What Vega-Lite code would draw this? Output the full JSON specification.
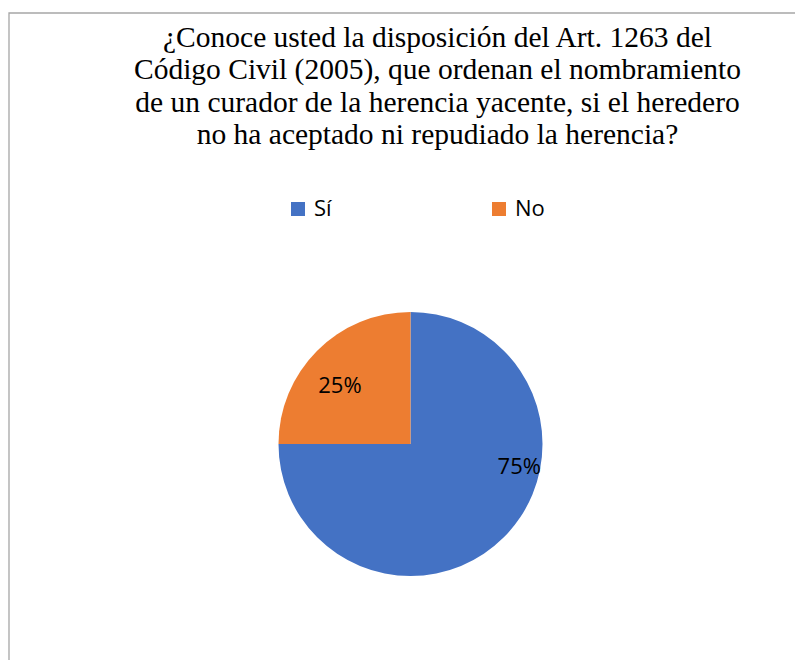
{
  "$schema": "https://vega.github.io/schema/vega-lite/v6.json",
  "autosize": "none",
  "width": 803,
  "height": 862,
  "padding": {"left": 9, "top": 13, "right": 0, "bottom": 0},
  "background": "white",
  "config": {"view": {"stroke": null}},
  "title": {
    "text": [
      "¿Conoce usted la disposición del Art. 1263 del",
      "Código Civil (2005), que ordenan el nombramiento",
      "de un curador de la herencia yacente, si el heredero",
      "no ha aceptado ni repudiado la herencia?"
    ],
    "font": "Liberation Serif",
    "fontSize": 29.5,
    "fontWeight": "normal",
    "color": "#000000",
    "lineHeight": 32.2,
    "anchor": "middle",
    "frame": "group",
    "orient": "top",
    "offset": 0,
    "dx": 27,
    "dy": 138
  },
  "data": {
    "values": [
      {"respuesta": "Sí", "valor": 75, "etiqueta": "75%"},
      {"respuesta": "No", "valor": 25, "etiqueta": "25%"}
    ]
  },
  "layer": [
    {
      "data": {"values": [{"marco": 1}]},
      "mark": {"type": "rect", "fill": null, "stroke": "#a6a6a6", "strokeWidth": 1.3},
      "encoding": {}
    },
    {
      "mark": {"type": "arc", "outerRadius": 132, "strokeWidth": 0},
      "encoding": {
        "theta": {"field": "valor", "type": "quantitative", "stack": true},
        "order": {"field": "respuesta", "sort": "descending"},
        "color": {
          "field": "respuesta",
          "type": "nominal",
          "scale": {"domain": ["Sí", "No"], "range": ["#4472C4", "#ED7D31"]},
          "legend": {
            "title": null,
            "orient": "none",
            "direction": "horizontal",
            "legendX": 278,
            "legendY": 185,
            "symbolType": "square",
            "symbolSize": 196,
            "symbolStrokeWidth": 0,
            "labelFont": "Open Sans",
            "labelFontSize": 22,
            "labelColor": "#000000",
            "labelOffset": 5,
            "columnPadding": 156
          }
        }
      }
    },
    {
      "mark": {"type": "text", "radius": 92, "dx": -5.5, "dy": 7, "font": "Open Sans", "fontSize": 22, "color": "#000000", "align": "center", "baseline": "middle"},
      "encoding": {
        "theta": {"field": "valor", "type": "quantitative", "stack": true},
        "order": {"field": "respuesta", "sort": "descending"},
        "text": {"condition": {"test": "datum.respuesta == 'No'", "field": "etiqueta"}, "value": ""}
      }
    },
    {
      "mark": {"type": "text", "radius": 110, "dx": 31, "dy": -55, "font": "Open Sans", "fontSize": 22, "color": "#000000", "align": "center", "baseline": "middle"},
      "encoding": {
        "theta": {"field": "valor", "type": "quantitative", "stack": true},
        "order": {"field": "respuesta", "sort": "descending"},
        "text": {"condition": {"test": "datum.respuesta == 'Sí'", "field": "etiqueta"}, "value": ""}
      }
    }
  ]
}
